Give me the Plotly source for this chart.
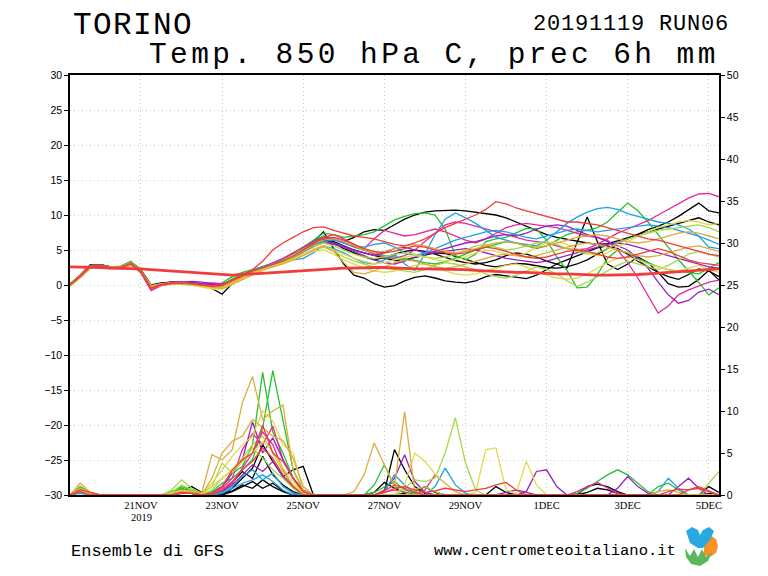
import plotly.graph_objects as go
import pandas as pd

# ---------------- time axis (6-hourly, 19NOV2019 06Z -> 5DEC2019 06Z) ----------------
TIMES = pd.date_range("2019-11-19 06:00", periods=65, freq="6h")

TICK_DATES = ["2019-11-21", "2019-11-23", "2019-11-25", "2019-11-27",
              "2019-11-29", "2019-12-01", "2019-12-03", "2019-12-05"]
TICK_TEXT = ["21NOV", "23NOV", "25NOV", "27NOV", "29NOV", "1DEC", "3DEC", "5DEC"]
TEMP_TICKS = [-30, -25, -20, -15, -10, -5, 0, 5, 10, 15, 20, 25, 30]
PREC_TICKS = [0, 5, 10, 15, 20, 25, 30, 35, 40, 45, 50]

# ---------------- member colours ----------------
BLACK = "#000000"
GREEN = "#22c22a"
MAGENTA = "#e8289a"
PURPLE = "#9b1fc0"
BLUE = "#1fa0e6"
YGREEN = "#a5d84a"
YELLOW = "#e3d94a"
GOLD = "#dcac3c"
RED = "#f03c3c"

MEMBER_COLORS = [BLACK, BLACK, BLACK, BLACK, GREEN, GREEN, MAGENTA, MAGENTA,
                 PURPLE, PURPLE, BLUE, BLUE, YGREEN, YGREEN, YELLOW, YELLOW,
                 GOLD, GOLD, RED, RED]

# ---------------- temperature 850 hPa (C), one list per member ----------------
T00 = [0.1,1.4,2.9,2.8,2.5,2.6,3.3,2.2,0.0,0.3,0.4,0.4,0.2,0.0,-0.1,-0.2,0.5,1.3,2.1,2.6,3.0,3.6,4.5,5.4,6.3,
       6.9,6.6,6.2,6.8,7.6,7.9,7.8,8.6,9.4,10.0,10.4,10.6,10.7,10.7,10.6,10.4,10.2,10.0,9.6,9.0,
       8.4,7.8,7.2,6.8,6.5,6.2,6.0,5.8,5.9,6.3,6.8,7.2,7.6,8.0,8.4,8.8,9.2,9.6,9.0,8.6]
T01 = [0.0,1.2,2.6,2.9,2.6,2.4,3.2,1.9,-0.3,0.2,0.3,0.2,0.1,-0.1,-0.5,-1.3,0.2,1.0,1.7,2.3,2.8,3.3,4.0,5.0,6.2,
       7.6,5.2,3.0,1.4,1.0,0.2,-0.3,-0.1,0.6,1.1,1.3,1.0,0.6,0.4,0.3,0.6,1.2,1.5,1.3,1.0,
       0.9,1.4,2.2,3.0,3.6,4.2,4.8,5.3,5.6,5.2,4.4,3.4,2.6,1.8,1.2,0.8,1.5,2.3,2.0,1.2]
T02 = [0.0,1.3,2.8,2.7,2.4,2.5,3.0,2.1,-0.1,0.1,0.3,0.3,0.2,0.0,-0.2,-0.4,0.3,1.1,1.8,2.4,2.7,3.3,4.1,4.9,5.8,
       6.4,6.0,5.2,4.6,4.0,3.6,3.9,4.4,4.8,5.0,4.8,4.4,3.9,3.5,3.2,3.0,3.2,3.6,4.2,4.6,
       4.4,4.0,3.4,3.0,2.4,6.0,9.7,6.2,3.0,2.2,3.0,4.0,3.2,1.8,0.2,-0.3,-0.2,0.8,2.1,0.7]
T03 = [0.1,1.3,2.7,2.9,2.6,2.5,3.1,2.0,-0.2,0.2,0.4,0.3,0.3,0.1,-0.1,-0.2,0.5,1.2,1.9,2.5,2.9,3.5,4.3,5.1,6.0,
       6.5,6.2,5.6,5.0,4.6,4.2,3.8,3.5,3.6,3.9,4.3,4.6,4.5,4.1,3.6,3.2,2.8,2.6,2.8,3.1,
       3.0,2.7,2.5,2.4,2.6,3.0,3.6,4.4,5.2,6.0,6.6,7.3,7.9,8.4,9.0,9.8,10.8,11.7,10.6,10.3]
T04 = [0.2,1.4,2.8,2.9,2.6,2.7,3.4,2.1,-0.1,0.2,0.3,0.3,0.1,-0.1,-0.3,0.3,1.2,1.8,2.2,2.6,3.0,3.6,4.4,5.4,6.4,
       7.4,7.2,6.8,7.0,7.2,7.6,8.4,9.3,9.8,10.2,10.3,10.0,8.0,4.2,3.6,4.4,6.2,6.6,6.8,7.4,
       8.1,8.0,6.4,4.0,2.1,-0.4,-0.3,1.5,3.8,5.0,4.6,3.8,3.2,2.6,2.2,2.0,1.8,1.6,2.4,3.2]
T05 = [0.0,1.2,2.6,2.8,2.5,2.6,3.2,2.1,-0.2,0.1,0.2,0.3,0.2,0.0,-0.3,0.0,0.9,1.6,2.1,2.5,2.9,3.4,4.2,5.3,6.2,
       7.0,6.7,6.0,5.4,5.0,4.6,4.2,4.0,3.8,3.5,3.2,3.0,3.3,3.8,4.4,5.0,5.4,5.8,6.2,6.0,
       5.6,5.2,5.6,6.4,7.2,7.6,7.8,8.2,9.0,10.4,11.7,10.6,9.0,7.2,5.4,3.6,2.0,0.4,-1.4,-0.4]
T06 = [0.0,1.3,2.7,2.8,2.4,2.5,3.0,1.8,-0.6,0.0,0.3,0.4,0.4,0.2,0.3,0.2,0.6,1.3,1.9,2.4,2.8,3.4,4.2,5.0,5.8,
       6.6,6.8,6.4,5.8,5.0,4.4,4.0,3.8,4.2,5.0,6.2,7.4,8.6,9.0,8.8,8.4,8.0,7.6,7.2,6.8,
       6.4,6.2,6.0,5.6,5.2,5.0,5.2,5.8,6.6,7.4,8.0,8.6,9.2,10.0,10.8,11.6,12.4,13.0,13.1,12.6]
T07 = [0.1,1.4,2.8,2.7,2.4,2.6,3.1,1.7,-0.8,-0.1,0.2,0.3,0.3,0.1,0.2,0.1,0.7,1.4,2.0,2.6,3.2,3.8,4.6,5.4,6.2,
       6.8,6.5,6.0,5.5,5.2,6.6,7.8,7.4,7.0,7.2,7.6,8.0,7.6,7.0,6.4,6.0,6.6,7.4,8.2,8.6,
       8.8,8.6,8.4,8.2,7.8,7.4,7.0,6.8,6.4,5.0,3.2,1.0,-1.6,-4.0,-3.0,-1.4,-0.7,-0.2,0.4,0.7]
T08 = [0.0,1.2,2.6,2.8,2.5,2.4,3.0,1.9,-0.4,0.1,0.3,0.4,0.5,0.4,0.2,0.0,0.6,1.3,2.0,2.5,2.9,3.4,4.0,4.8,5.6,
       6.2,6.0,5.6,5.0,4.6,4.2,4.6,5.2,5.4,5.0,4.6,4.8,5.2,5.6,6.0,6.2,6.6,7.0,7.2,7.0,
       7.4,8.0,8.4,8.6,8.4,7.8,7.2,6.8,6.2,5.6,5.0,3.8,2.4,0.4,-1.4,-2.6,-2.2,-1.0,-0.6,-1.4]
T09 = [0.1,1.3,2.7,2.9,2.5,2.5,3.1,2.0,-0.2,0.2,0.4,0.4,0.3,0.2,0.1,-0.1,0.4,1.1,1.8,2.3,2.7,3.2,3.9,4.7,5.5,
       6.0,5.8,5.4,4.8,4.2,3.6,3.2,3.0,3.4,4.0,4.4,4.6,4.8,5.0,5.2,5.0,4.6,4.2,3.8,3.6,
       3.4,3.2,3.4,3.8,4.2,4.6,5.0,5.4,5.8,6.0,5.8,5.4,5.0,4.6,4.2,3.8,3.4,3.0,2.6,2.4]
T10 = [0.0,1.2,2.5,2.7,2.4,2.5,3.0,1.9,-0.4,0.0,0.2,0.2,0.1,-0.1,-0.4,-0.2,0.6,1.3,2.0,2.4,2.8,3.3,3.6,3.8,4.6,
       5.6,5.2,4.6,3.8,3.2,3.0,3.6,4.4,3.0,2.1,4.4,7.2,9.4,10.3,9.6,8.8,7.8,6.8,6.4,6.0,
       5.8,5.6,6.4,7.6,8.8,9.7,10.4,10.9,11.1,10.8,10.2,9.8,9.4,9.0,8.8,8.6,8.0,7.0,5.4,5.2]
T11 = [0.1,1.3,2.6,2.8,2.5,2.6,3.2,2.0,-0.3,0.1,0.2,0.3,0.2,0.0,-0.2,0.0,0.7,1.4,2.1,2.6,3.0,3.5,4.2,5.0,5.8,
       6.2,6.4,6.0,5.6,5.4,5.8,6.0,5.4,4.6,4.2,4.6,5.2,5.8,6.4,6.8,7.2,7.6,7.8,7.6,7.2,
       6.8,6.6,7.0,7.4,7.8,8.0,7.8,7.6,7.8,8.0,8.2,8.4,8.6,8.4,8.2,7.8,7.4,7.0,6.4,5.8]
T12 = [-0.2,1.0,2.4,2.6,2.3,2.4,2.9,1.8,-0.2,0.1,0.2,0.1,0.0,-0.2,-0.4,-0.3,0.3,1.0,1.7,2.3,2.7,3.2,3.8,4.4,5.0,
       5.4,4.8,4.0,3.4,3.0,2.6,2.4,2.2,2.0,1.8,2.2,2.8,3.2,3.0,2.6,2.2,1.6,1.2,1.0,1.4,
       2.0,2.6,2.2,1.6,0.6,-0.2,0.4,1.2,2.0,2.8,3.4,3.0,2.6,2.2,2.8,3.6,4.4,4.8,4.4,4.0]
T13 = [0.0,1.2,2.6,2.7,2.4,2.4,3.0,1.9,-0.2,0.1,0.3,0.3,0.2,0.0,-0.2,-0.1,0.5,1.2,1.9,2.4,2.8,3.3,4.0,4.8,5.6,
       6.0,5.6,5.0,4.4,4.0,3.8,4.0,4.4,4.6,4.4,4.0,3.8,4.0,4.4,5.0,5.6,5.8,5.4,5.0,5.2,
       5.6,6.0,6.2,5.8,5.2,4.8,4.4,4.6,5.2,6.0,6.6,7.0,7.4,7.8,8.0,8.2,8.4,8.6,8.2,7.6]
T14 = [0.1,1.3,2.6,2.6,2.3,2.4,2.8,1.8,-0.1,0.1,0.2,0.2,0.0,-0.3,-0.6,-0.4,0.2,0.9,1.6,2.2,2.6,3.0,3.6,4.4,5.2,
       5.6,5.0,4.4,3.8,3.4,3.0,3.2,3.6,4.0,4.2,4.0,3.6,3.4,3.6,4.0,4.6,5.0,4.8,4.4,4.2,
       4.6,5.4,6.0,6.2,5.8,5.2,4.6,4.2,4.6,5.4,6.2,7.0,7.6,8.2,8.6,9.0,9.2,9.0,8.6,8.8]
T15 = [0.0,1.2,2.5,2.6,2.4,2.5,3.0,1.9,-0.3,0.0,0.2,0.2,0.1,-0.1,-0.5,-0.6,0.1,0.9,1.6,2.2,2.6,3.1,3.7,4.3,4.8,
       5.0,4.4,3.6,3.0,2.4,2.0,1.8,2.0,2.4,2.8,3.0,2.6,2.0,1.6,1.4,1.6,2.0,2.4,2.8,3.0,
       2.6,2.0,1.4,1.0,0.8,1.0,1.6,2.4,3.2,3.8,4.0,3.6,3.0,2.6,2.2,2.0,2.4,2.8,2.2,1.8]
T16 = [0.0,1.1,2.4,2.7,2.5,2.3,2.8,1.7,-0.3,0.0,0.1,0.2,0.1,-0.1,-0.4,-0.5,0.1,0.8,1.5,2.1,2.6,3.0,3.6,4.2,5.0,
       5.6,4.8,3.2,1.8,1.6,2.0,2.6,3.2,3.6,3.4,3.0,2.6,2.4,2.6,3.0,3.4,3.8,4.2,4.4,4.2,
       4.0,4.2,4.6,5.0,5.4,5.8,6.0,5.8,5.4,5.0,4.6,4.2,4.0,4.2,4.6,5.0,5.4,5.6,5.2,4.8]
T17 = [0.1,1.3,2.7,2.8,2.6,2.6,3.2,2.0,-0.2,0.2,0.3,0.3,0.2,0.0,-0.2,-0.2,0.4,1.1,1.8,2.4,2.9,3.5,4.3,5.1,5.9,
       6.4,6.6,6.2,5.6,5.0,4.6,4.8,5.2,5.6,5.8,5.6,5.2,4.8,4.6,4.8,5.2,5.6,6.0,6.2,6.0,
       5.6,5.4,5.6,6.0,6.4,6.8,7.0,7.2,7.0,6.6,6.2,6.0,6.2,6.6,7.0,7.4,7.6,7.4,7.0,6.6]
T18 = [0.0,1.2,2.6,2.7,2.4,2.5,3.0,1.8,-0.5,0.0,0.2,0.3,0.2,0.0,-0.2,-0.1,0.6,1.4,2.2,3.4,5.0,6.0,6.8,7.6,8.2,
       8.3,7.8,7.4,7.0,6.8,6.6,6.2,5.8,5.6,6.0,6.6,7.4,8.2,8.8,9.4,10.0,10.8,11.9,11.6,11.0,
       10.6,10.2,9.8,9.4,9.0,9.0,8.8,8.6,8.2,7.8,7.4,7.0,6.6,6.4,6.0,5.6,5.2,4.8,4.4,4.2]
T19 = [0.1,1.3,2.7,2.8,2.5,2.5,3.1,1.9,-0.4,0.1,0.3,0.3,0.2,0.0,-0.1,0.0,0.6,1.3,2.0,2.5,2.9,3.4,4.1,5.0,5.9,
       6.8,7.2,6.6,5.8,5.2,4.8,4.6,4.8,5.2,5.6,5.4,5.0,4.6,4.4,4.6,5.0,5.4,5.2,4.8,4.4,
       4.0,3.8,4.0,4.4,4.8,5.0,4.8,4.4,4.0,3.8,4.0,4.4,4.8,5.2,4.8,4.2,3.6,3.2,3.0,2.8]

# climatological 850 hPa temperature (thick red line)
T_CLIMA = [2.6,2.6,2.5,2.5,2.4,2.4,2.3,2.3,2.2,2.1,2.0,1.9,1.8,1.6,1.5,1.4,1.4,1.5,1.6,1.7,
           1.8,1.9,2.0,2.1,2.2,2.3,2.3,2.4,2.4,2.5,2.5,2.5,2.4,2.4,2.3,2.3,2.3,2.2,2.2,2.2,
           2.1,2.0,2.0,1.9,1.8,1.8,1.7,1.7,1.6,1.6,1.5,1.5,1.4,1.4,1.4,1.4,1.5,1.6,1.7,1.8,
           1.9,2.0,2.1,2.2,2.3]

# ---------------- 6h precipitation (mm), one list per member ----------------
P00 = [0,0.8,0.2,0,0,0,0,0,0,0,0,0.6,0.4,
       0.2,0,0,0.8,2.0,3.2,6.0,4.0,2.2,3.0,3.4,0,0,
       0,0,0,0,0,0.4,5.4,3.0,1.0,0.2,0,0,0,
       0,0,0,1.0,0.3,0,0,0,0,0,0,0,1.0,
       1.3,1.0,0.4,0,0,0,0,0,0,0,0,1.0,0.3]
P01 = [0,0.5,0,0,0,0,0,0,0,0,0,0.8,0.2,
       0,0,0,0.4,1.0,1.6,0.8,1.4,0.5,0,0,0,0,
       0,0,0,0,0,0,0,0,0,0,0,0,0,
       0,0,0,0,0,0,0,0,0,0,0,0,0,
       0,0,0,0,0,0,0,0,0,0,0,0,0]
P02 = [0,0.6,0,0,0,0,0,0,0,0,0,0.4,1.0,
       0.3,0,0.4,1.5,2.8,2.0,4.6,2.4,1.2,0.4,0,0,0,
       0,0,0,0,0.3,1.5,0.8,0.3,0,0,0,0,0,
       0,0,0,0,0,0,0,0,0,0,0,0,0,
       0,0,0,0,0,0,0,0,0,0,0,0,0]
P03 = [0,0.4,0,0,0,0,0,0,0,0,0,0.3,0.2,
       0,0,0.2,0.5,1.2,0.8,1.8,1.0,0.4,0,0,0,0,
       0,0,0,0,0,0,0,0.2,0.4,1.0,0.3,0,0,
       0,0,0,0,0,0,0,0,0,0,0,0,0.3,
       0.8,0.6,0.2,0,0,0,0,0,0,0,0,0.2,0]
P04 = [0,1.0,0.3,0,0,0,0,0,0,0,0.4,1.0,0.6,
       0.2,0.3,1.0,2.6,3.4,6.0,14.6,7.5,5.0,2.0,0.4,0,0,
       0,0,0,0,0.3,1.0,1.6,0.6,0.2,0,0,0,0,
       0,0,0,0,0,0,0,0,0,0,0,0.2,0.8,
       1.6,2.4,3.0,2.4,1.4,0.4,0,0,0,0,0,0,0]
P05 = [0,0.6,0.2,0,0,0,0,0,0,0,0.2,0.8,0.4,
       0,0.4,1.4,2.0,3.0,4.2,8.0,14.8,9.0,3.0,0.6,0,0,
       0,0,0,0,1.2,3.6,1.0,0.3,0,0,0,0,0,
       0,0,0,0,0,0,0,0,0,0,0,0,0,
       0,0,0,0,0,0,1.0,1.4,0.6,0,0,0,0]
P06 = [0,0.5,0,0,0,0,0,0,0,0,0,0.5,0.3,
       0,0,0.8,2.0,5.4,7.3,6.0,8.2,4.2,2.0,0.3,0,0,
       0,0,0,0,0,0,0,0,0,0.6,2.4,1.4,0.4,
       0,0,0,0,0,0,0,0,0,0,0,0,0,
       0,0,0,0,0,0,0,0,0,0,0,0,0]
P07 = [0,0.3,0,0,0,0,0,0,0,0,0,0.3,0.2,
       0,0,0.5,1.4,3.2,5.0,7.5,6.0,3.0,1.0,0,0,0,
       0,0,0,0,0,0.3,0.6,0.3,0,0,0,0,0,
       0,0,0,0,0,0,0,0,0,0,0,0.4,1.0,
       1.5,0.8,0.2,0,0,0,0,0,0,0,0,0,0]
P08 = [0,0.4,0,0,0,0,0,0,0,0,0,0.4,0.4,
       0,0.2,1.0,2.6,4.2,8.7,5.0,6.8,4.2,2.0,0.6,0,0,
       0,0,0,0,0,0.6,2.0,4.8,1.6,0.3,0,0,0,
       0,0,0,0,0,0,0.4,2.8,3.0,1.0,0,0,0,
       0,0,0.8,2.2,1.0,0.2,0,0,1.0,2.0,0.8,0,0]
P09 = [0,0.3,0,0,0,0,0,0,0,0,0,0.2,0.3,
       0,0,0.4,1.2,2.4,3.6,2.8,4.0,2.2,1.0,0,0,0,
       0,0,0,0,0,0,0,0,0,0,0,0,0,
       0,0,0,0,0.3,0.6,0.3,0,0,0,0,0,0,
       0,0,0,0,0,0,0,0,0,0,0,0,0]
P10 = [0,0.3,0,0,0,0,0,0,0,0,0,0.3,0.2,
       0,0,0.2,0.8,1.4,1.8,2.4,1.6,0.6,0,0,0,0,
       0,0,0,0,0,0.4,2.4,1.2,0.3,0,1.0,3.2,1.2,
       0.2,0,0,0,0,0,0,0,0,0,0,0,0,
       0,0,0,0,0,0,0.4,2.0,0.8,0,0,0,0]
P11 = [0,0.2,0,0,0,0,0,0,0,0,0,0.2,0.2,
       0,0,0.3,1.0,2.2,3.0,1.8,2.6,1.0,0.2,0,0,0,
       0,0,0,0,0,0,0,0,0,0,0,0,0,
       0,0,0,0,0,0,0,0,0,0,0,0,0,
       0,0,0,0,0,0,0,0,0,0,0,0,0]
P12 = [0,0.6,0.2,0,0,0,0,0,0,0,0.6,1.8,0.8,
       0.2,1.0,3.8,2.6,4.0,5.6,4.4,3.0,2.0,0.8,0,0,0,
       0,0,0,0,0,0,0,0.8,1.8,1.6,2.0,5.0,9.2,
       3.8,0.6,0,0,0,0,0,0,0,0,0,0,0,
       0,0,0,0,0,0,0,0,0,0,0,1.4,2.8]
P13 = [0,0.4,0,0,0,0,0,0,0,0,0.3,1.2,0.6,
       0,0.6,2.0,3.0,4.4,6.0,7.0,5.0,2.8,1.2,0,0,0,
       0,0,0,0,0,0,0,0,0.6,1.0,0.4,0,0,
       0,0,0,0,0,0,0,0,0,0,0,0,0,
       0,0,0,0,0,0,0,0,0,0,0,0,0]
P14 = [0,0.8,0.3,0,0,0,0,0,0,0,0.2,0.6,0.4,
       0.2,1.4,3.0,4.6,6.0,7.0,10.0,8.8,6.0,5.0,0.5,0,0,
       0,0,0,0,0,0,0,1.2,5.0,4.0,2.5,1.4,0.4,
       0,0,0,0,0,0,0,0,0,0,0,0,0,
       0,0,0,0,0,0,0,0,0,0,0,0,0]
P15 = [0,0.6,0,0,0,0,0,0,0,0,0,0.5,0.3,
       0,1.0,2.0,3.0,4.0,5.0,6.4,5.2,3.2,1.6,0.2,0,0,
       0,0,0,0,0,0,0,0,0,0,0,0,0,
       0,0.3,5.4,5.6,0.6,0.2,4.0,1.2,0,0,0,0,0,
       0,0,0,0,0,0,0,0,0,0,0,0,0]
P16 = [0,1.4,0.3,0,0,0,0,0,0,0,0,0.4,0.3,
       0.3,4.8,4.2,5.4,11.0,14.1,9.0,10.0,10.7,3.0,0.5,0,0,
       0,0,0,0,0,0,0,0,0,0,0,0,0,
       0,0,0,0,0,0,0,0,0,0,0,0,0,
       0,0,0,0,0,0,0.4,0.6,0.3,0,0,0,0]
P17 = [0,0.8,0.2,0,0,0,0,0,0,0,0,0.4,0.3,
       0,2.0,5.0,6.4,7.0,9.0,8.0,7.0,6.5,4.4,1.0,0,0,
       0,0,0.4,2.4,6.2,3.6,1.0,9.9,0.4,0,0,0,0,
       0,0,0,0,0,0,0,0,0,0,0,0,0,
       0,0,0,0,0,0,0,0,0,0,0,0,0]
P18 = [0,0.6,0.3,0,0,0,0,0,0,0,0,0.3,0.2,
       0,0.2,1.0,3.0,4.2,5.0,8.3,5.0,4.0,2.0,0.4,0,0,
       0,0,0,0,0,0.3,0.8,1.0,0.6,0.3,0.5,0.8,0.6,
       0.4,0.6,0.8,1.2,1.5,0.6,0,0,0,0,0,0,0,
       0,0,0,0,0,0,0,0.4,0.7,0.6,0.8,0.4,0]
P19 = [0,0.4,0,0,0,0,0,0,0,0,0,0.2,0.2,
       0,0,0.6,1.6,3.0,4.0,5.6,4.4,2.4,1.0,0,0,0,
       0,0,0,0,0,0.5,1.2,0.8,0.3,0,0,0,0,
       0,0,0,0,0,0,0,0,0,0,0,0,0,
       0,0,0,0,0,0,0,0,0,0.6,1.0,0.5,0]

TEMPS = [T00, T01, T02, T03, T04, T05, T06, T07, T08, T09,
         T10, T11, T12, T13, T14, T15, T16, T17, T18, T19]
PRECS = [P00, P01, P02, P03, P04, P05, P06, P07, P08, P09,
         P10, P11, P12, P13, P14, P15, P16, P17, P18, P19]

# ---------------- layout geometry (page pixels) ----------------
BODY = 8                      # default page margin around the plot div
W, H = 768 - BODY, 576 - BODY
PL, PR, PT, PB = 70, 719, 75, 495


def px(x):
    return (x - PL) / (PR - PL)


def py(y):
    return (PB - y) / (PB - PT)


fig = go.Figure()

for p, c in zip(PRECS, MEMBER_COLORS):
    fig.add_trace(go.Scatter(x=TIMES, y=p, yaxis="y2", mode="lines",
                             line=dict(color=c, width=1.3), hoverinfo="skip"))

for t, c in zip(TEMPS, MEMBER_COLORS):
    fig.add_trace(go.Scatter(x=TIMES, y=t, yaxis="y", mode="lines",
                             line=dict(color=c, width=1.3), hoverinfo="skip"))

fig.add_trace(go.Scatter(x=TIMES, y=T_CLIMA, yaxis="y", mode="lines",
                         line=dict(color=RED, width=2.8), hoverinfo="skip"))

GRID = "#c8c8c8"
GDASH = "1px,3px"
fig.update_layout(
    width=W, height=H, autosize=False,
    margin=dict(l=PL - BODY, r=W - (PR - BODY), t=PT - BODY, b=H - (PB - BODY), pad=0),
    paper_bgcolor="white", plot_bgcolor="white",
    showlegend=False,
    xaxis=dict(
        type="date",
        range=[TIMES[0], TIMES[-1]],
        tickvals=TICK_DATES, ticktext=TICK_TEXT,
        tickfont=dict(family="Liberation Serif", size=10.5, color="black"),
        ticks="", showgrid=True, gridcolor=GRID, griddash=GDASH, gridwidth=1,
        showline=True, linecolor="black", linewidth=1.5, mirror=True,
        zeroline=False,
    ),
    yaxis=dict(
        range=[-30, 30], tickvals=TEMP_TICKS,
        tickfont=dict(family="Liberation Sans", size=10.5, color="black"),
        ticks="outside", ticklen=4, tickcolor="black", tickwidth=1,
        showgrid=True, gridcolor=GRID, griddash=GDASH, gridwidth=1,
        showline=True, linecolor="black", linewidth=1.5,
        zeroline=False,
    ),
    yaxis2=dict(
        range=[0, 50], tickvals=PREC_TICKS, overlaying="y", side="right",
        tickfont=dict(family="Liberation Sans", size=10.5, color="black"),
        ticks="outside", ticklen=4, tickcolor="black", tickwidth=1,
        showgrid=False, showline=True, linecolor="black", linewidth=1.5,
        zeroline=False,
    ),
)

MONO = "Liberation Mono"


def spaced(s, sp):
    return f'<span style="letter-spacing:{sp}px">{s}</span>'


ann = [
    dict(text=spaced("TORINO", 1.4), x=px(71), y=py(26), xanchor="left", yanchor="middle",
         font=dict(family=MONO, size=31, color="black")),
    dict(text=spaced("20191119 RUN06", 0.8), x=px(731), y=py(25), xanchor="right",
         yanchor="middle", font=dict(family=MONO, size=22, color="black")),
    dict(text=spaced("Temp. 850 hPa C, prec 6h mm", 3.4), x=px(721), y=py(55), xanchor="right",
         yanchor="middle", font=dict(family=MONO, size=29.5, color="black")),
    dict(text="Ensemble di GFS", x=px(69), y=py(551), xanchor="left", yanchor="middle",
         font=dict(family=MONO, size=17, color="black")),
    dict(text="www.centrometeoitaliano.it", x=px(678), y=py(551), xanchor="right",
         yanchor="middle", font=dict(family=MONO, size=15.5, color="black")),
    dict(text="2019", x=px(141), y=py(517), xanchor="center", yanchor="middle",
         font=dict(family="Liberation Serif", size=10.5, color="black")),
]
for a in ann:
    a.update(xref="paper", yref="paper", showarrow=False)
fig.update_layout(annotations=ann)


def path(points):
    return "M " + " L ".join(f"{px(a):.4f},{py(b):.4f}" for a, b in points) + " Z"


logo = [
    ("#f5922a", [(704, 537), (710, 535), (716, 539), (718, 546), (716, 553), (710, 557), (704, 555)]),
    ("#29a9e1", [(686, 531), (692, 527), (698, 530), (700, 535), (703, 530), (709, 527), (714, 531),
                 (710, 540), (703, 548), (698, 548), (690, 543)]),
    ("#5cb85c", [(685, 548), (690, 556), (694, 549), (698, 557), (702, 549), (706, 557), (712, 552),
                 (708, 561), (700, 566), (691, 564), (686, 557)]),
]
for col, pts in logo:
    fig.add_shape(type="path", path=path(pts), xref="paper", yref="paper",
                  fillcolor=col, line=dict(width=0), layer="above")

fig.write_html("out.html")
